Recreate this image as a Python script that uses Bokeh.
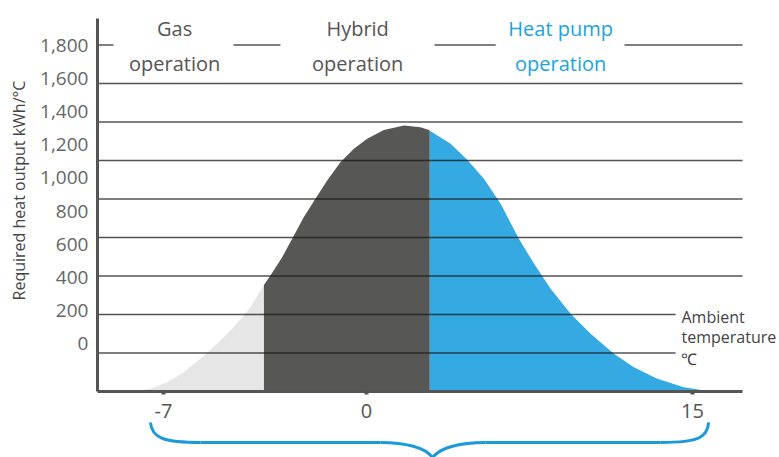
import math
import numpy as np
from bokeh.plotting import figure
from bokeh.models import (Range1d, LinearAxis, FixedTicker, BoxAnnotation,
                          Label, NumeralTickFormatter)
from bokeh.embed import file_html
from bokeh.resources import INLINE

# ---------------- data ----------------
temps = [-10.71, -9.94, -9.17, -8.41, -7.64, -6.87, -6.11, -5.34, -4.73, -4.42,
         -3.88, -3.42, -2.89, -2.35, -1.81, -1.20, -0.58, 0.03, 0.80, 1.72,
         2.48, 2.87, 3.87, 4.63, 5.40, 6.17, 7.01, 7.71, 8.47, 9.39,
         10.31, 11.38, 12.30, 13.38, 14.60, 15.83, 16.29]
demand = [0, 14, 48, 100, 170, 248, 334, 438, 551, 603,
          698, 793, 905, 1001, 1096, 1191, 1261, 1313, 1359, 1382,
          1373, 1358, 1287, 1204, 1105, 975, 793, 663, 534, 404,
          300, 196, 126, 66, 22, 0, 0]

gas_limit = -4.72      # gas -> hybrid switch
hp_limit = 2.91        # hybrid -> heat pump switch

x_tick_pos = [-9.34, 0, 15]
x_tick_labels = ["-7", "0", "15"]
y_label_ticks = [0, 200, 400, 600, 800, 1000, 1200, 1400, 1600, 1800]
grid_ticks = [200, 400, 600, 800, 1000, 1200, 1400, 1600, 1800]

zone_line1 = ["Gas", "Hybrid", "Heat pump"]
zone_line2 = ["operation", "operation", "operation"]
zone_colors = ["#555555", "#555555", "#1aa3e0"]
ambient_lines = ["Ambient", "temperature", "\u2103"]
y_title = "Required heat output kWh/\u00b0C"

# ---------------- figure ----------------
X0, X1 = -12.38, 17.30          # extent of the drawn x axis
p = figure(frame_width=779, frame_height=457,
           min_border_left=0, min_border_right=0, min_border_top=0, min_border_bottom=0,
           x_range=Range1d(-16.84, 19.00), y_range=Range1d(-342.9, 2031.2),
           x_axis_location=None, y_axis_location=None,
           toolbar_location=None, output_backend="svg")
p.outline_line_color = None
p.background_fill_color = "white"
p.border_fill_color = "white"
p.xgrid.visible = False
p.ygrid.visible = False

FONT = "Open Sans"

# ---------------- areas ----------------
t = np.array(temps, dtype=float)
d = np.array(demand, dtype=float)


def part(lo, hi):
    m = (t > lo) & (t < hi)
    xs = list(t[m])
    ys = list(d[m])
    if lo > t.min():
        xs = [lo] + xs
        ys = [float(np.interp(lo, t, d))] + ys
    if hi < t.max():
        xs = xs + [hi]
        ys = ys + [float(np.interp(hi, t, d))]
    return xs, ys


for lo, hi, col in [(t.min() - 1, gas_limit, "#e6e6e6"),
                    (gas_limit, hp_limit, "#575756"),
                    (hp_limit, t.max() + 1, "#35a9e1")]:
    xs, ys = part(lo, hi)
    p.varea(x=xs, y1=[0] * len(xs), y2=ys, fill_color=col, fill_alpha=1)

# horizontal grid lines, drawn over the areas
p.segment(x0=[X0] * len(grid_ticks), x1=[X1] * len(grid_ticks),
          y0=grid_ticks, y1=grid_ticks,
          line_color="#1a1a1a", line_alpha=0.75, line_width=1.5)

# ---------------- axes ----------------
p.extra_y_ranges = {"labels": Range1d(-688.6, 2071.8)}
yaxis = LinearAxis(y_range_name="labels", fixed_location=X0,
                   ticker=FixedTicker(ticks=y_label_ticks),
                   formatter=NumeralTickFormatter(format="0,0"),
                   bounds=(-289.9, 1963.0))
yaxis.axis_line_width = 3
yaxis.axis_line_color = "#555555"
yaxis.major_tick_out = 0
yaxis.major_tick_in = 0
yaxis.minor_tick_out = 0
yaxis.minor_tick_in = 0
yaxis.major_label_text_font = FONT
yaxis.major_label_text_font_size = "19px"
yaxis.major_label_text_color = "#666666"
yaxis.major_label_standoff = 9
p.add_layout(yaxis, "left")

xaxis = LinearAxis(fixed_location=0, ticker=FixedTicker(ticks=x_tick_pos),
                   major_label_overrides=dict(zip(x_tick_pos, x_tick_labels)),
                   bounds=(X0, X1))
xaxis.axis_line_width = 3
xaxis.axis_line_color = "#555555"
xaxis.major_tick_out = 3
xaxis.major_tick_in = 0
xaxis.major_tick_line_width = 4
xaxis.major_tick_line_color = "#555555"
xaxis.minor_tick_out = 0
xaxis.minor_tick_in = 0
xaxis.major_label_text_font = FONT
xaxis.major_label_text_font_size = "20px"
xaxis.major_label_text_color = "#555555"
xaxis.major_label_standoff = 10
p.add_layout(xaxis, "below")

p.add_layout(Label(x=-15.97, y=1044, text=y_title, angle=math.pi / 2,
                   text_align="center", text_baseline="middle",
                   text_font=FONT, text_font_size="16px", text_color="#444444"))

# ---------------- headers ----------------
head_x = [-8.83, -0.41, 8.93]
gaps = [(-11.64, -6.12), (-3.96, 3.13), (5.94, 11.87)]
for (l, r) in gaps:
    p.add_layout(BoxAnnotation(left=l, right=r, bottom=1740, top=1860,
                               fill_color="white", fill_alpha=1, line_color=None))
for hx, l1, l2, c in zip(head_x, zone_line1, zone_line2, zone_colors):
    p.add_layout(Label(x=hx, y=1885, text=l1, text_align="center", text_baseline="alphabetic",
                       text_font=FONT, text_font_size="20px", text_color=c))
    p.add_layout(Label(x=hx, y=1705, text=l2, text_align="center", text_baseline="alphabetic",
                       text_font=FONT, text_font_size="20px", text_color=c))

# ---------------- ambient temperature note ----------------
p.add_layout(BoxAnnotation(left=14.22, right=X1 + 0.2, bottom=150, top=450,
                           fill_color="white", fill_alpha=1, line_color=None))
for txt, yy in zip(ambient_lines, [389, 283, 171]):
    p.add_layout(Label(x=14.49, y=yy, text=txt, text_align="left", text_baseline="alphabetic",
                       text_font=FONT, text_font_size="16px", text_color="#444444"))

# ---------------- brace ----------------
brace_left, brace_right, brace_tip = -9.94, 15.74, 3.04
b_top, b_mid, b_low = -161, -265, -343
bc = "#1a9ad9"
p.bezier(x0=[brace_left, brace_tip - 2.4, brace_tip, brace_right],
         y0=[b_top, b_mid, b_low, b_top],
         x1=[brace_left + 2.3, brace_tip, brace_tip + 2.44, brace_right - 2.21],
         y1=[b_mid, b_low, b_mid, b_mid],
         cx0=[brace_left + 0.05, brace_tip - 1.25, brace_tip + 0.36, brace_right - 0.05],
         cy0=[b_mid + 21, b_mid, b_mid - 26, b_mid + 31],
         cx1=[brace_left + 0.69, brace_tip - 0.33, brace_tip + 1.29, brace_right - 0.37],
         cy1=[b_mid, b_mid - 26, b_mid, b_mid],
         line_color=bc, line_width=3)
p.segment(x0=[brace_left + 2.3, brace_tip + 2.44], y0=[b_mid, b_mid],
          x1=[brace_tip - 2.4, brace_right - 2.21], y1=[b_mid, b_mid],
          line_color=bc, line_width=3)

open("out.html", "w").write(file_html(p, INLINE))
